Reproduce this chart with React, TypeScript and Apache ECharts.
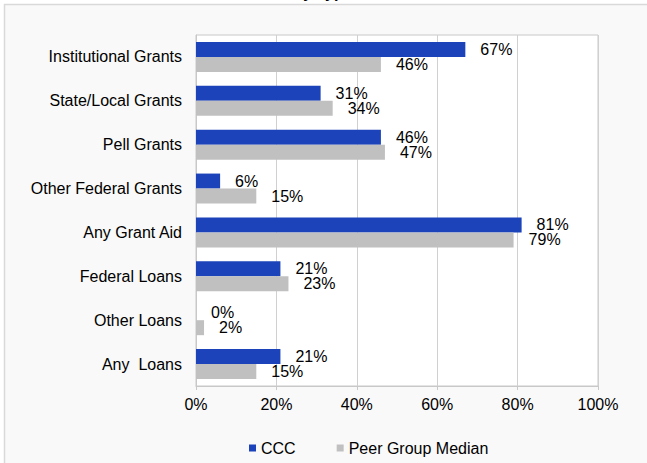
import React, { useEffect, useRef } from "react";
import * as echarts from "echarts";

const categories = [
  "Institutional Grants",
  "State/Local Grants",
  "Pell Grants",
  "Other Federal Grants",
  "Any Grant Aid",
  "Federal Loans",
  "Other Loans",
  "Any  Loans",
];
const cccValues = [67, 31, 46, 6, 81, 21, 0, 21];
const peerValues = [46, 34, 47, 15, 79, 23, 2, 15];
const xTicks = [0, 20, 40, 60, 80, 100];
const seriesNames = ["CCC", "Peer Group Median"];
const titleText = "by Type";

const FONT = "Liberation Sans, Arial, Helvetica, sans-serif";
const FS = 16;

export default function App() {
  const ref = useRef<HTMLDivElement>(null);
  useEffect(() => {
    document.body.style.margin = "0";
    if (!ref.current) return;
    const chart = echarts.init(ref.current, undefined, { renderer: "svg" });
    const labelStyle = {
      show: true,
      position: "right" as const,
      distance: 15,
      formatter: "{c}%",
      fontSize: FS,
      color: "#000",
      fontFamily: FONT,
    };
    chart.setOption({
      animation: false,
      backgroundColor: "#ffffff",
      textStyle: { fontFamily: FONT },
      graphic: [
        {
          type: "rect",
          z: -10,
          silent: true,
          shape: { x: 4.5, y: 4.5, width: 700, height: 500 },
          style: { fill: "#f9f9f9", stroke: "#d9d9d9", lineWidth: 1.5 },
        },
        {
          type: "text",
          z: 10,
          x: 323,
          y: -8,
          style: {
            text: titleText,
            fontSize: 16,
            fontWeight: "bold",
            fontFamily: FONT,
            fill: "#000",
            align: "center",
            verticalAlign: "middle",
          },
        },
      ],
      grid: {
        left: 196,
        top: 35,
        right: 49,
        bottom: 77,
        show: true,
        backgroundColor: "#ffffff",
        borderColor: "#c8c8c8",
        borderWidth: 1,
        containLabel: false,
      },
      legend: {
        data: seriesNames,
        left: 244,
        top: 435,
        icon: "rect",
        itemWidth: 7,
        itemHeight: 7,
        itemGap: 41,
        itemStyle: { borderWidth: 0 },
        textStyle: { fontSize: FS, color: "#000", fontFamily: FONT },
      },
      xAxis: {
        type: "value",
        min: xTicks[0],
        max: xTicks[xTicks.length - 1],
        interval: xTicks[1] - xTicks[0],
        axisLabel: {
          formatter: "{value}%",
          fontSize: FS,
          color: "#000",
          margin: 10,
          fontFamily: FONT,
        },
        axisLine: { show: true, lineStyle: { color: "#c8c8c8" } },
        axisTick: { show: true, length: 4, lineStyle: { color: "#c8c8c8" } },
        splitLine: { show: true, lineStyle: { color: "#d0d0d0", width: 1 } },
      },
      yAxis: {
        type: "category",
        data: categories,
        inverse: true,
        axisLabel: {
          fontSize: FS,
          color: "#000",
          margin: 14,
          fontFamily: FONT,
        },
        axisLine: { show: true, lineStyle: { color: "#c8c8c8" } },
        axisTick: { show: false },
      },
      series: [
        {
          name: seriesNames[0],
          type: "bar",
          data: cccValues,
          barWidth: 15,
          barGap: "0%",
          itemStyle: { color: "#1c43b9" },
          label: labelStyle,
        },
        {
          name: seriesNames[1],
          type: "bar",
          data: peerValues,
          barWidth: 15,
          barGap: "0%",
          itemStyle: { color: "#c0c0c0" },
          label: labelStyle,
        },
      ],
    });
    return () => chart.dispose();
  }, []);
  return <div ref={ref} style={{ width: 647, height: 463 }} />;
}
